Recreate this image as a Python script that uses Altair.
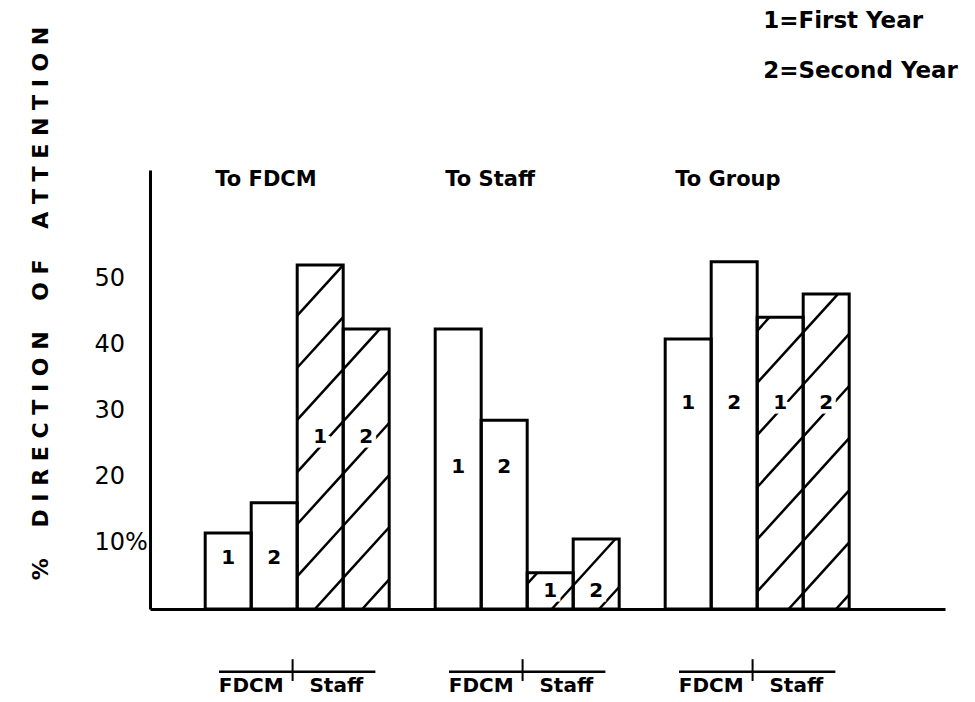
import altair as alt
import pandas as pd

# ---------------- data ----------------
groups = ["To FDCM", "To Staff", "To Group"]
sources = ["FDCM", "FDCM", "Staff", "Staff"]
years = ["1", "2", "1", "2"]
to_fdcm = [11.5, 16.1, 52.1, 42.4]
to_staff = [42.4, 28.6, 5.5, 10.6]
to_group = [40.9, 52.6, 44.2, 47.7]
y_ticks = [10, 20, 30, 40, 50]
legend_lines = ["1=First Year", "2=Second Year"]
axis_title = "% DIRECTION OF ATTENTION"

# ---------------- layout (not data) ----------------
X_DOMAIN = [-1.2, 16.083]
Y_DOMAIN = [0, 66.5]
GROUP_STEP = 5
NUM_LEVEL = [[7.7, 26.1], [21.5, 2.7], [31.2, 31.2]]   # where the 1/2 marks sit
HATCH_SLOPE = 7.67
HATCH_STEP = 7.9
HATCH_PHASE = 5.4
FONT = "DejaVu Sans"

rows = []
for g, vals in enumerate([to_fdcm, to_staff, to_group]):
    for k in range(4):
        x0 = g * GROUP_STEP + k
        rows.append(dict(group=groups[g], source=sources[k], year=years[k],
                         value=vals[k], x0=x0, x1=x0 + 1, xc=x0 + 0.5,
                         zero=0, label_y=NUM_LEVEL[g][k // 2]))
bars = pd.DataFrame(rows)

hatch = []
for r in rows:
    if r["source"] != "Staff":
        continue
    for k in range(-80, 80):
        b = HATCH_PHASE + k * HATCH_STEP
        xa = max(r["x0"], (0 - b) / HATCH_SLOPE)
        xb = min(r["x1"], (r["value"] - b) / HATCH_SLOPE)
        if xb - xa > 0.02:
            hatch.append(dict(xa=xa, ya=HATCH_SLOPE * xa + b,
                              xb=xb, yb=HATCH_SLOPE * xb + b))
hatch = pd.DataFrame(hatch)

titles = pd.DataFrame([dict(t=groups[g], x=g * GROUP_STEP + 0.22, y=65) for g in range(3)])
sub = pd.DataFrame(
    [dict(t="FDCM", x=g * GROUP_STEP + 1.0, y=-11.6) for g in range(3)]
    + [dict(t="Staff", x=g * GROUP_STEP + 2.85, y=-11.6) for g in range(3)])
overline = pd.DataFrame([dict(x=g * GROUP_STEP + 0.3, x2=g * GROUP_STEP + 3.7, y=-9.5) for g in range(3)])
divider = pd.DataFrame([dict(x=g * GROUP_STEP + 1.9, y=-7.6, y2=-10.9) for g in range(3)])
legend = pd.DataFrame([dict(t=legend_lines[0], x=12.13, y=89.1),
                       dict(t=legend_lines[1], x=12.13, y=81.5)])

NB = "\u00a0"
spaced_title = (NB * 4).join(NB.join(w) for w in axis_title.split(" "))

xs = alt.Scale(domain=X_DOMAIN, nice=False, zero=False)
ys = alt.Scale(domain=Y_DOMAIN, nice=False, zero=False)

x_axis = alt.Axis(domain=True, domainColor="black", domainWidth=3, labels=False,
                  ticks=False, grid=False, title=None)
y_axis = alt.Axis(values=y_ticks, domain=True, domainColor="black", domainWidth=3,
                  ticks=False, tickSize=0, grid=False,
                  labelExpr="datum.value == 10 ? '10%' : datum.label",
                  labelFont=FONT, labelFontSize=24, labelColor="black",
                  labelAlign="left", labelPadding=56,
                  title=spaced_title, titleFont=FONT, titleFontSize=22,
                  titleFontWeight="bold", titleColor="black", titleAngle=270,
                  titleX=-110, titleY=133, titleAlign="center", titleBaseline="middle")


def X(field):
    return alt.X(field, scale=xs, axis=x_axis)


def Y(field):
    return alt.Y(field, scale=ys, axis=y_axis)


fill = alt.Chart(bars).mark_rect(color="white").encode(
    x=X("x0:Q"), x2="x1:Q", y=Y("value:Q"), y2="zero:Q",
)

hatch_layer = alt.Chart(hatch).mark_rule(color="black", strokeWidth=2.5).encode(
    x=X("xa:Q"), x2="xb:Q", y=Y("ya:Q"), y2="yb:Q",
)

outline = alt.Chart(bars).mark_rect(fillOpacity=0, stroke="black", strokeWidth=3).encode(
    x=X("x0:Q"), x2="x1:Q", y=Y("value:Q"), y2="zero:Q",
)

num_halo = alt.Chart(bars).mark_text(font=FONT, fontSize=20, fontWeight="bold",
                                     color="white", stroke="white", strokeWidth=9).encode(
    x=X("xc:Q"), y=Y("label_y:Q"), text="year:N",
)
num = alt.Chart(bars).mark_text(font=FONT, fontSize=20, fontWeight="bold", color="black").encode(
    x=X("xc:Q"), y=Y("label_y:Q"), text="year:N",
)

title_layer = alt.Chart(titles).mark_text(font=FONT, fontSize=21, fontWeight="bold",
                                          color="black", align="left").encode(
    x=X("x:Q"), y=Y("y:Q"), text="t:N",
)

sub_layer = alt.Chart(sub).mark_text(font=FONT, fontSize=20, fontWeight="bold",
                                     color="black").encode(
    x=X("x:Q"), y=Y("y:Q"), text="t:N",
)

over_layer = alt.Chart(overline).mark_rule(color="black", strokeWidth=2.5).encode(
    x=X("x:Q"), x2="x2:Q", y=Y("y:Q"),
)

div_layer = alt.Chart(divider).mark_rule(color="black", strokeWidth=2).encode(
    x=X("x:Q"), y=Y("y:Q"), y2="y2:Q",
)

legend_layer = alt.Chart(legend).mark_text(font=FONT, fontSize=23, fontWeight="bold",
                                           color="black", align="left").encode(
    x=X("x:Q"), y=Y("y:Q"), text="t:N",
)

chart = alt.layer(
    fill, hatch_layer, outline, num_halo, num,
    title_layer, sub_layer, over_layer, div_layer, legend_layer,
).properties(
    width=795, height=439,
    autosize=alt.AutoSizeParams(type="none"),
    padding={"left": 142, "top": 162, "right": 22, "bottom": 92},
    background="white",
).configure_view(stroke=None)

chart.save("out.html", embed_options={"renderer": "svg", "actions": False})
